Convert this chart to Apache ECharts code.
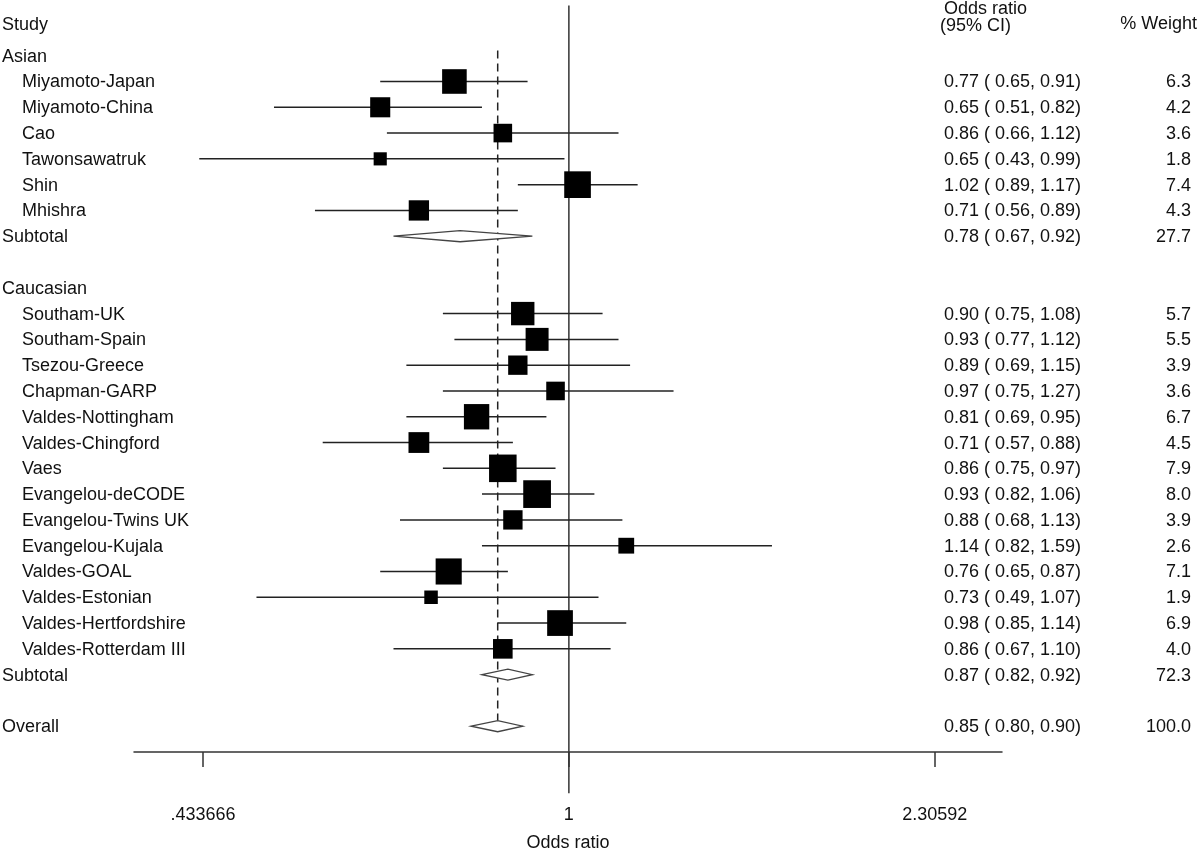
<!DOCTYPE html>
<html>
<head>
<meta charset="utf-8">
<script src="https://cdn.jsdelivr.net/npm/echarts@6/dist/echarts.min.js"></script>
<style>
html,body{margin:0;padding:0;background:#fff;}
#chart{width:1200px;height:849px;}
</style>
</head>
<body>
<div id="chart"></div>
<script>
// ---------- data ----------
const groupNames = ['Asian', 'Caucasian'];

const asianStudies = ['Miyamoto-Japan','Miyamoto-China','Cao','Tawonsawatruk','Shin','Mhishra'];
const asianOR     = [0.77, 0.65, 0.86, 0.65, 1.02, 0.71];
const asianLo     = [0.65, 0.51, 0.66, 0.43, 0.89, 0.56];
const asianHi     = [0.91, 0.82, 1.12, 0.99, 1.17, 0.89];
const asianWeight = [6.3, 4.2, 3.6, 1.8, 7.4, 4.3];
const asianSubtotal = [0.78, 0.67, 0.92, 27.7];   // OR, lo, hi, weight

const caucStudies = ['Southam-UK','Southam-Spain','Tsezou-Greece','Chapman-GARP','Valdes-Nottingham','Valdes-Chingford','Vaes','Evangelou-deCODE','Evangelou-Twins UK','Evangelou-Kujala','Valdes-GOAL','Valdes-Estonian','Valdes-Hertfordshire','Valdes-Rotterdam III'];
const caucOR     = [0.90, 0.93, 0.89, 0.97, 0.81, 0.71, 0.86, 0.93, 0.88, 1.14, 0.76, 0.73, 0.98, 0.86];
const caucLo     = [0.75, 0.77, 0.69, 0.75, 0.69, 0.57, 0.75, 0.82, 0.68, 0.82, 0.65, 0.49, 0.85, 0.67];
const caucHi     = [1.08, 1.12, 1.15, 1.27, 0.95, 0.88, 0.97, 1.06, 1.13, 1.59, 0.87, 1.07, 1.14, 1.10];
const caucWeight = [5.7, 5.5, 3.9, 3.6, 6.7, 4.5, 7.9, 8.0, 3.9, 2.6, 7.1, 1.9, 6.9, 4.0];
const caucSubtotal = [0.87, 0.82, 0.92, 72.3];

const overall = [0.85, 0.80, 0.90, 100.0];

const tickLabels = ['.433666', '1', '2.30592'];

// ---------- build rows ----------
const FAMILY = '"Liberation Sans", Arial, sans-serif';
const FONT = '18px ' + FAMILY;
const rows = [];
let r = 0;
function addGroup(name, studies, ors, los, his, ws, sub) {
  rows.push({label: name, indent: false, kind: 'head', r: r++});
  studies.forEach((s, i) => rows.push({label: s, indent: true, kind: 'study', or: ors[i], lo: los[i], hi: his[i], w: ws[i], r: r++}));
  rows.push({label: 'Subtotal', indent: false, kind: 'diamond', or: sub[0], lo: sub[1], hi: sub[2], w: sub[3], r: r++});
  r++; // blank row
}
addGroup(groupNames[0], asianStudies, asianOR, asianLo, asianHi, asianWeight, asianSubtotal);
addGroup(groupNames[1], caucStudies, caucOR, caucLo, caucHi, caucWeight, caucSubtotal);
rows.push({label: 'Overall', indent: false, kind: 'diamond', or: overall[0], lo: overall[1], hi: overall[2], w: overall[3], r: r++});

const L = Math.log;
const studyData = rows.filter(d => d.kind === 'study').map(d => [L(d.lo), L(d.hi), L(d.or), d.r, d.w]);
const diamondData = rows.filter(d => d.kind === 'diamond').map(d => [L(d.lo), L(d.hi), L(d.or), d.r]);

const texts = [];
rows.forEach(d => {
  texts.push({r: d.r, x: d.indent ? 22 : 2, align: 'left', text: d.label});
  if (d.or !== undefined) {
    texts.push({r: d.r, x: 944, align: 'left', text: d.or.toFixed(2) + ' ( ' + d.lo.toFixed(2) + ', ' + d.hi.toFixed(2) + ')'});
    texts.push({r: d.r, x: 1191, align: 'right', text: d.w.toFixed(1)});
  }
});
texts.push({r: -1.23, x: 2, align: 'left', text: 'Study'});
texts.push({r: -1.85, x: 944, align: 'left', text: 'Odds ratio'});
texts.push({r: -1.19, x: 940, align: 'left', text: '(95% CI)'});
texts.push({r: -1.27, x: 1197, align: 'right', text: '% Weight'});

const tickValues = tickLabels.map(t => L(parseFloat(t)));
const overallLog = L(overall[0]);

const chart = echarts.init(document.getElementById('chart'));
chart.setOption({
  animation: false,
  backgroundColor: '#fff',
  grid: {left: 134, right: 198, top: 0, bottom: 97, containLabel: false, outerBoundsMode: 'none'},
  xAxis: {
    type: 'value', min: -0.993, max: 0.989, position: 'bottom',
    splitLine: {show: false},
    axisLine: {show: true, onZero: false, lineStyle: {color: '#333', width: 1.5}},
    axisTick: {show: true, customValues: tickValues, length: 15, lineStyle: {color: '#333', width: 1.5}},
    axisLabel: {
      customValues: tickValues, margin: 54,
      color: '#111', fontSize: 18, fontFamily: FAMILY,
      formatter: v => {
        let best = 0;
        tickValues.forEach((t, i) => { if (Math.abs(t - v) < Math.abs(tickValues[best] - v)) best = i; });
        return tickLabels[best];
      }
    },
    name: 'Odds ratio', nameLocation: 'middle', nameGap: 82,
    nameTextStyle: {color: '#111', fontSize: 18, fontFamily: FAMILY}
  },
  yAxis: {type: 'value', min: -2.16, max: 27.0, inverse: true, show: false},
  series: [
    { // reference lines
      type: 'custom', clip: false, silent: true,
      data: [[0]],
      renderItem: (params, api) => {
        const top = api.coord([0, -1.95]);
        const bot = api.coord([0, 28.6]);
        const dTop = api.coord([overallLog, -0.2]);
        const dBot = api.coord([overallLog, 25.78]);
        return {type: 'group', children: [
          {type: 'line', shape: {x1: top[0], y1: top[1], x2: bot[0], y2: bot[1]}, style: {stroke: '#333', lineWidth: 1.5}},
          {type: 'line', shape: {x1: dTop[0], y1: dTop[1], x2: dBot[0], y2: dBot[1]}, style: {stroke: '#222', lineWidth: 1.5, lineDash: [8, 5]}}
        ]};
      }
    },
    { // studies: CI line + square
      type: 'custom', clip: false, silent: true,
      encode: {x: [0, 1, 2], y: 3},
      data: studyData,
      renderItem: (params, api) => {
        const p1 = api.coord([api.value(0), api.value(3)]);
        const p2 = api.coord([api.value(1), api.value(3)]);
        const pc = api.coord([api.value(2), api.value(3)]);
        const s = 9.8 * Math.sqrt(api.value(4));
        return {type: 'group', children: [
          {type: 'line', shape: {x1: p1[0], y1: p1[1], x2: p2[0], y2: p2[1]}, style: {stroke: '#222', lineWidth: 1.5}},
          {type: 'rect', shape: {x: pc[0] - s / 2, y: pc[1] - s / 2, width: s, height: s}, style: {fill: '#000'}}
        ]};
      }
    },
    { // diamonds
      type: 'custom', clip: false, silent: true,
      encode: {x: [0, 1, 2], y: 3},
      data: diamondData,
      renderItem: (params, api) => {
        const p1 = api.coord([api.value(0), api.value(3)]);
        const p2 = api.coord([api.value(1), api.value(3)]);
        const pc = api.coord([api.value(2), api.value(3)]);
        const h = 5.5;
        return {type: 'polygon', shape: {points: [[p1[0], p1[1]], [pc[0], pc[1] - h], [p2[0], p2[1]], [pc[0], pc[1] + h]]},
                style: {fill: '#fff', stroke: '#444', lineWidth: 1.3}};
      }
    },
    { // texts
      type: 'custom', clip: false, silent: true,
      encode: {x: 0, y: 1},
      data: texts.map(t => [0, t.r]),
      renderItem: (params, api) => {
        const t = texts[params.dataIndex];
        const p = api.coord([0, t.r]);
        return {type: 'text', x: t.x, y: p[1] + 1,
                style: {text: t.text, font: FONT, fill: '#111', textAlign: t.align, textVerticalAlign: 'middle'}};
      }
    }
  ]
});
</script>
</body>
</html>
